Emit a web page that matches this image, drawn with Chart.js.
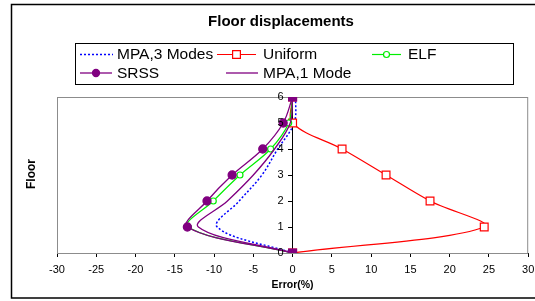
<!DOCTYPE html>
<html lang="en">
<head>
  <meta charset="UTF-8" />
  <title>Floor displacements</title>
  <style>
    * {
      box-sizing: border-box;
      margin: 0;
      padding: 0;
    }

    body {
      background-color: #fff;
      width: 535px;
      height: 301px;
      overflow: hidden;
    }

    .chart-box {
      position: relative;
      width: 535px;
      height: 301px;
    }
  </style>
</head>
<body>
  <div class="chart-box">
    <canvas id="floorChart" width="535" height="301"></canvas>
  </div>

  <script src="https://cdn.jsdelivr.net/npm/chart.js"></script>
  <script>
    // data
    const floors = [0, 1, 2, 3, 4, 5, 6];
    const mpa3Modes = [0, -9.6, -6.8, -3.9, -1.9, 0.2, 0.4];
    const uniform = [0, 24.4, 17.5, 11.9, 6.3, 0, 0];
    const elf = [0, -13.3, -10.1, -6.7, -2.8, -0.5, 0];
    const srss = [0, -13.4, -10.9, -7.7, -3.8, -1.2, 0];
    const mpa1Mode = [0, -12.0, -8.3, -5.0, -2.3, -0.3, 0];
    const xTicks = [-30, -25, -20, -15, -10, -5, 0, 5, 10, 15, 20, 25, 30];

    const FONT = "'Liberation Sans', Arial, sans-serif";

    function points(values) {
      return floors.map((f, i) => ({ x: values[i], y: f }));
    }

    // frame, title, legend box, y labels and "Floor" label
    const decorations = {
      id: 'decorations',
      beforeDatasetsDraw(chart) {
        const { ctx, chartArea } = chart;
        ctx.save();
        ctx.strokeStyle = '#8c8c8c';
        ctx.lineWidth = 1;
        ctx.strokeRect(chartArea.left + 0.5, chartArea.top + 0.5,
          chartArea.right - chartArea.left - 1, chartArea.bottom - chartArea.top);
        ctx.restore();
      },
      afterDraw(chart) {
        const ctx = chart.ctx;
        const xs = chart.scales.x;
        const ys = chart.scales.y;
        ctx.save();

        // y tick labels, left of the axis that sits on x = 0
        ctx.fillStyle = '#000';
        ctx.font = '11px ' + FONT;
        ctx.textAlign = 'right';
        ctx.textBaseline = 'middle';
        const x0 = xs.getPixelForValue(0);
        ys.ticks.forEach(t => {
          ctx.fillText(String(t.value), x0 - 9, ys.getPixelForValue(t.value));
        });

        // outer frame
        ctx.strokeStyle = '#000';
        ctx.lineWidth = 1.5;
        ctx.strokeRect(11.5, 4.5, 600, 293.5);

        // title
        ctx.textAlign = 'center';
        ctx.font = 'bold 15px ' + FONT;
        ctx.fillText('Floor displacements', 281, 22);

        // y title
        ctx.save();
        ctx.translate(32, 174);
        ctx.rotate(-Math.PI / 2);
        ctx.font = 'bold 12px ' + FONT;
        ctx.fillText('Floor', 0, 0);
        ctx.restore();

        // legend
        ctx.lineWidth = 1;
        ctx.strokeStyle = '#000';
        ctx.strokeRect(75.5, 43.5, 438, 41);

        const slots = [
          { x1: 80, x2: 113, tx: 117, y: 54.5 },
          { x1: 217, x2: 256, tx: 263, y: 54.5 },
          { x1: 372, x2: 401, tx: 408, y: 54.5 },
          { x1: 80, x2: 112, tx: 117, y: 73 },
          { x1: 226, x2: 258, tx: 263, y: 73 }
        ];
        ctx.font = '15.5px ' + FONT;
        ctx.textAlign = 'left';
        chart.data.datasets.forEach((ds, i) => {
          const s = slots[i];
          const cx = (s.x1 + s.x2) / 2;
          ctx.save();
          ctx.strokeStyle = ds.borderColor;
          ctx.lineWidth = ds.borderWidth;
          ctx.setLineDash(ds.borderDash || []);
          ctx.beginPath();
          ctx.moveTo(s.x1, s.y);
          ctx.lineTo(s.x2, s.y);
          ctx.stroke();
          ctx.restore();
          if (ds.legendMarker) {
            ctx.fillStyle = ds.pointBackgroundColor;
            ctx.strokeStyle = ds.borderColor;
            ctx.lineWidth = ds.borderWidth;
            ctx.beginPath();
            if (ds.legendMarker === 'rect') {
              const h = ds.legendRadius * Math.SQRT1_2;
              ctx.rect(cx - h, s.y - h, 2 * h, 2 * h);
            } else {
              ctx.arc(cx, s.y, ds.legendRadius, 0, Math.PI * 2);
            }
            ctx.fill();
            ctx.stroke();
          }
          ctx.fillStyle = '#000';
          ctx.fillText(ds.label, s.tx, s.y + 0.5);
        });

        ctx.restore();
      }
    };

    new Chart(document.getElementById('floorChart'), {
      type: 'scatter',
      data: {
        datasets: [
          {
            label: 'MPA,3 Modes',
            data: points(mpa3Modes),
            showLine: true,
            borderColor: '#0000ff',
            borderWidth: 1.5,
            borderDash: [2, 2],
            pointRadius: 0,
            tension: 0.35,
            order: 4
          },
          {
            label: 'Uniform',
            data: points(uniform),
            showLine: true,
            borderColor: '#ff0000',
            borderWidth: 1.2,
            pointStyle: 'rect',
            pointRadius: 5.5,
            pointBackgroundColor: '#fff',
            pointBorderColor: '#ff0000',
            pointBorderWidth: 1.2,
            legendMarker: 'rect',
            legendRadius: 5.5,
            tension: 0.35,
            order: 3
          },
          {
            label: 'ELF',
            data: points(elf),
            showLine: true,
            borderColor: '#00ee00',
            borderWidth: 1.2,
            pointStyle: 'circle',
            pointRadius: 3,
            pointBackgroundColor: '#fff',
            pointBorderColor: '#00ee00',
            pointBorderWidth: 1.2,
            legendMarker: 'circle',
            legendRadius: 3,
            tension: 0.35,
            order: 2
          },
          {
            label: 'SRSS',
            data: points(srss),
            showLine: true,
            borderColor: '#800080',
            borderWidth: 1.3,
            pointStyle: ['rect', 'circle', 'circle', 'circle', 'circle', 'circle', 'rect'],
            pointRadius: [5.5, 4, 4, 4, 4, 4, 5.5],
            pointBackgroundColor: '#800080',
            pointBorderColor: '#800080',
            legendMarker: 'circle',
            legendRadius: 3.5,
            tension: 0.35,
            order: 0
          },
          {
            label: 'MPA,1 Mode',
            data: points(mpa1Mode),
            showLine: true,
            borderColor: '#800080',
            borderWidth: 1.3,
            pointRadius: 0,
            tension: 0.35,
            order: 1
          }
        ]
      },
      options: {
        responsive: false,
        animation: false,
        events: [],
        layout: {
          padding: { left: 57, right: 3, top: 97, bottom: 0 }
        },
        plugins: {
          legend: { display: false },
          tooltip: { enabled: false }
        },
        scales: {
          x: {
            type: 'linear',
            min: -30,
            max: 30,
            afterBuildTicks: (scale) => {
              scale.ticks = xTicks.map(v => ({ value: v }));
            },
            afterFit: (scale) => {
              scale.height = 48;
              scale.paddingLeft = 0;
              scale.paddingRight = 0;
            },
            grid: {
              drawOnChartArea: false,
              drawTicks: true,
              tickLength: 4,
              color: '#000'
            },
            border: { color: '#000', width: 1 },
            ticks: {
              color: '#000',
              font: { family: FONT, size: 11 },
              padding: 6,
              maxRotation: 0
            },
            title: {
              display: true,
              text: 'Error(%)',
              color: '#000',
              font: { family: FONT, size: 10.5, weight: 'bold' },
              padding: { top: 0, bottom: 10 }
            }
          },
          y: {
            type: 'linear',
            position: { x: 0 },
            min: 0,
            max: 6,
            ticks: {
              stepSize: 1,
              display: false
            },
            grid: {
              drawOnChartArea: false,
              drawTicks: true,
              tickLength: 4,
              color: '#000'
            },
            border: { color: '#000', width: 1 }
          }
        }
      },
      plugins: [decorations]
    });
  </script>
</body>
</html>
